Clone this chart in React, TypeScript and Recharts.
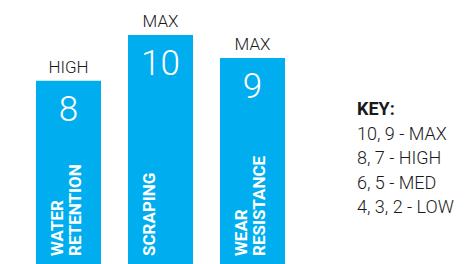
import React from "react";
import { BarChart, Bar, XAxis, YAxis, LabelList } from "recharts";

const categories: string[][] = [["WATER", "RETENTION"], ["SCRAPING"], ["WEAR", "RESISTANCE"]];
const values: number[] = [8, 10, 9];
const levels: string[] = ["HIGH", "MAX", "MAX"];
const keyTitle = "KEY:";
const keyLines: string[] = ["10, 9 - MAX", "8, 7 - HIGH", "6, 5 - MED", "4, 3, 2 - LOW"];

const data = values.map((v, i) => ({ id: i, value: v, level: levels[i], lines: categories[i] }));

const BAR = "#00aeef";
const FONT = "Roboto, 'Noto Sans', sans-serif";

const LevelLabel = (props: any) => {
  const { x, y, width, index } = props;
  return (
    <text x={x + width / 2} y={y - 8} textAnchor="middle" fontFamily={FONT} fontWeight={300} fontSize={17} fill="#1a1a1a">
      {levels[index]}
    </text>
  );
};

const ValueLabel = (props: any) => {
  const { x, y, width, index } = props;
  return (
    <text x={x + width / 2} y={y + 40} textAnchor="middle" fontFamily={FONT} fontWeight={300} fontSize={35} fill="#ffffff">
      {values[index]}
    </text>
  );
};

const NameLabel = (props: any) => {
  const { x, y, height, index } = props;
  const lines = categories[index];
  const bottom = y + height - 8;
  return (
    <g>
      {lines.map((ln, i) => {
        const bx = x + 27 + i * 18;
        return (
          <text key={i} x={bx} y={bottom} transform={`rotate(-90 ${bx} ${bottom})`} textAnchor="start" fontFamily={FONT} fontWeight={700} fontSize={17} fill="#ffffff">
            {ln}
          </text>
        );
      })}
    </g>
  );
};

export default function App() {
  return (
    <div style={{ position: "absolute", left: 0, top: 0, width: 466, height: 264, background: "#fff" }}>
      <BarChart width={466} height={264} data={data} margin={{ top: 35, right: 168, bottom: 0, left: 22 }}>
        <XAxis dataKey="id" hide />
        <YAxis domain={[0, 10]} hide />
        <Bar dataKey="value" fill={BAR} barSize={65} isAnimationActive={false}>
          <LabelList dataKey="level" content={LevelLabel} />
          <LabelList dataKey="value" content={ValueLabel} />
          <LabelList dataKey="id" content={NameLabel} />
        </Bar>
      </BarChart>
      <div style={{ position: "absolute", left: 357, top: 97, fontFamily: FONT, fontSize: 18, color: "#1a1a1a", lineHeight: "24.5px" }}>
        <div style={{ fontWeight: 700 }}>{keyTitle}</div>
        {keyLines.map((l, i) => (
          <div key={i} style={{ fontWeight: 300, whiteSpace: "nowrap" }}>{l}</div>
        ))}
      </div>
    </div>
  );
}
